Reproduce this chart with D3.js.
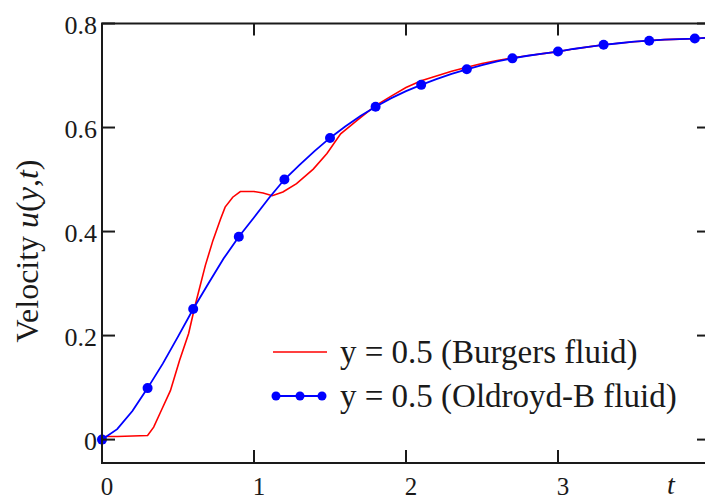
<!DOCTYPE html>
<html>
<head>
<meta charset="utf-8">
<script src="https://cdn.jsdelivr.net/npm/d3@7"></script>
<style>
  html, body { margin: 0; padding: 0; background: #fff; }
  svg { display: block; }
</style>
</head>
<body>
<svg id="chart" width="705" height="501"></svg>
<script>
// Velocity profiles u(y,t) at y = 0.5
const xTicks = [0, 1, 2, 3];
const xTickLabels = ["0", "1", "2", "3"];
const yTicks = [0, 0.2, 0.4, 0.6, 0.8];
const yTickLabels = ["0", "0.2", "0.4", "0.6", "0.8"];

// Burgers fluid
const burgersT = [0, 0.1, 0.2, 0.3, 0.34, 0.39, 0.45, 0.51, 0.57, 0.61, 0.68, 0.73, 0.78, 0.81, 0.86, 0.91,
  1.0, 1.06, 1.12, 1.19, 1.28, 1.39, 1.48, 1.57, 1.68, 1.8, 1.9, 2.0, 2.1, 2.2, 2.3, 2.4, 2.5, 2.6, 2.7,
  2.8, 2.9, 3.0, 3.1, 3.2, 3.3, 3.4, 3.5, 3.6, 3.7, 3.8, 3.9, 4.0];
const burgersU = [0.006, 0.006, 0.007, 0.008, 0.024, 0.056, 0.094, 0.152, 0.204, 0.255, 0.335, 0.383, 0.424, 0.447, 0.466, 0.477,
  0.477, 0.474, 0.469, 0.476, 0.492, 0.52, 0.55, 0.588, 0.614, 0.642, 0.66, 0.677, 0.69, 0.699, 0.708, 0.716, 0.723, 0.729, 0.734,
  0.738, 0.742, 0.746, 0.751, 0.755, 0.759, 0.762, 0.765, 0.767, 0.769, 0.770, 0.771, 0.773];

// Oldroyd-B fluid (symbols every 0.3)
const oldroydT = [0, 0.1, 0.2, 0.3, 0.4, 0.5, 0.6, 0.7, 0.8, 0.9, 1.0, 1.1, 1.2, 1.3, 1.4, 1.5, 1.6, 1.7, 1.8, 1.9,
  2.0, 2.1, 2.2, 2.3, 2.4, 2.5, 2.6, 2.7, 2.8, 2.9, 3.0, 3.1, 3.2, 3.3, 3.4, 3.5, 3.6, 3.7, 3.8, 3.9, 4.0];
const oldroydU = [0.0, 0.02, 0.055, 0.099, 0.146, 0.198, 0.251, 0.30, 0.348, 0.39, 0.427, 0.465, 0.50, 0.528, 0.555, 0.58,
  0.602, 0.622, 0.64, 0.656, 0.67, 0.682, 0.693, 0.703, 0.712, 0.72, 0.727, 0.733, 0.738, 0.742, 0.746, 0.751, 0.755,
  0.759, 0.762, 0.765, 0.767, 0.769, 0.770, 0.771, 0.773];
const oldroydMarkT = [0, 0.3, 0.6, 0.9, 1.2, 1.5, 1.8, 2.1, 2.4, 2.7, 3.0, 3.3, 3.6, 3.9];

const seriesNames = ["y = 0.5 (Burgers fluid)", "y = 0.5 (Oldroyd-B fluid)"];
const seriesColors = ["#ff0000", "#0000ff"];

const serif = "'Liberation Serif', Tinos, 'Times New Roman', Times, 'Nimbus Roman', FreeSerif, 'Noto Serif', 'DejaVu Serif', serif";
const svg = d3.select("#chart").style("font-family", serif);
const plotLeft = 102, plotRight = 710, plotTop = 23.5, plotBottom = 463;

const x = d3.scaleLinear().domain([0, 4]).range([plotLeft, plotRight]);
const y = d3.scaleLinear().domain([-0.045, 0.8]).range([plotBottom, plotTop]);

const burgers = burgersT.map((t, i) => [t, burgersU[i]]);
const oldroyd = oldroydT.map((t, i) => [t, oldroydU[i]]);
const oldroydMarks = oldroyd.filter(d => oldroydMarkT.some(m => Math.abs(m - d[0]) < 1e-9));

const line = d3.line().x(d => x(d[0])).y(d => y(d[1]));

// curves
svg.append("path").datum(burgers)
  .attr("d", line).attr("fill", "none")
  .attr("stroke", seriesColors[0]).attr("stroke-width", 1.6);

svg.append("path").datum(oldroyd)
  .attr("d", line).attr("fill", "none")
  .attr("stroke", seriesColors[1]).attr("stroke-width", 1.8);

svg.append("g").selectAll("circle").data(oldroydMarks).join("circle")
  .attr("cx", d => x(d[0])).attr("cy", d => y(d[1])).attr("r", 5)
  .attr("fill", seriesColors[1]);

// frame
const axisColor = "#1a1a1a";
svg.append("rect")
  .attr("x", plotLeft).attr("y", plotTop)
  .attr("width", plotRight - plotLeft).attr("height", plotBottom - plotTop)
  .attr("fill", "none").attr("stroke", axisColor).attr("stroke-width", 2);

// inward ticks on all four sides
const tickG = svg.append("g").attr("stroke", axisColor).attr("stroke-width", 2);
xTicks.forEach(v => {
  tickG.append("line").attr("x1", x(v)).attr("x2", x(v)).attr("y1", plotBottom).attr("y2", plotBottom - 13);
  tickG.append("line").attr("x1", x(v)).attr("x2", x(v)).attr("y1", plotTop).attr("y2", plotTop + 12);
});
yTicks.forEach(v => {
  tickG.append("line").attr("x1", plotLeft).attr("x2", plotLeft + 13).attr("y1", y(v)).attr("y2", y(v));
  tickG.append("line").attr("x1", plotRight).attr("x2", plotRight - 13).attr("y1", y(v)).attr("y2", y(v));
});

// tick labels
svg.append("g").selectAll("text").data(xTicks).join("text")
  .style("font-family", serif)
  .attr("x", d => x(d) + 5).attr("y", 495)
  .attr("text-anchor", "middle").attr("font-size", 25).attr("fill", "#1a1a1a")
  .text((d, i) => xTickLabels[i]);

svg.append("g").selectAll("text").data(yTicks).join("text")
  .style("font-family", serif)
  .attr("x", 97).attr("y", d => y(d) + 10)
  .attr("text-anchor", "end").attr("font-size", 26).attr("fill", "#1a1a1a")
  .text((d, i) => yTickLabels[i]);

// axis titles
svg.append("text").attr("x", 667).attr("y", 494)
  .style("font-family", serif)
  .attr("font-size", 28).attr("font-style", "italic").attr("fill", "#1a1a1a").text("t");

const yTitle = svg.append("text")
  .style("font-family", serif)
  .attr("transform", "translate(38,251) rotate(-90)")
  .attr("text-anchor", "middle").attr("font-size", 32).attr("fill", "#1a1a1a");
yTitle.append("tspan").text("Velocity ");
yTitle.append("tspan").attr("font-style", "italic").text("u");
yTitle.append("tspan").text("(");
yTitle.append("tspan").attr("font-style", "italic").text("y");
yTitle.append("tspan").text(",");
yTitle.append("tspan").attr("font-style", "italic").text("t");
yTitle.append("tspan").text(")");

// legend
const legend = svg.append("g");
const legY = [352, 396];
legend.append("line").attr("x1", 273).attr("x2", 327).attr("y1", legY[0]).attr("y2", legY[0])
  .attr("stroke", seriesColors[0]).attr("stroke-width", 1.6);
legend.append("line").attr("x1", 274).attr("x2", 324).attr("y1", legY[1]).attr("y2", legY[1])
  .attr("stroke", seriesColors[1]).attr("stroke-width", 1.8);
legend.selectAll("circle.leg").data([276, 300, 322]).join("circle")
  .attr("cx", d => d).attr("cy", legY[1]).attr("r", 4.5).attr("fill", seriesColors[1]);
legend.selectAll("text").data(seriesNames).join("text")
  .style("font-family", serif)
  .attr("x", 340).attr("y", (d, i) => legY[i] + 11)
  .attr("font-size", 33).attr("fill", "#1a1a1a")
  .text(d => d);
</script>
</body>
</html>
